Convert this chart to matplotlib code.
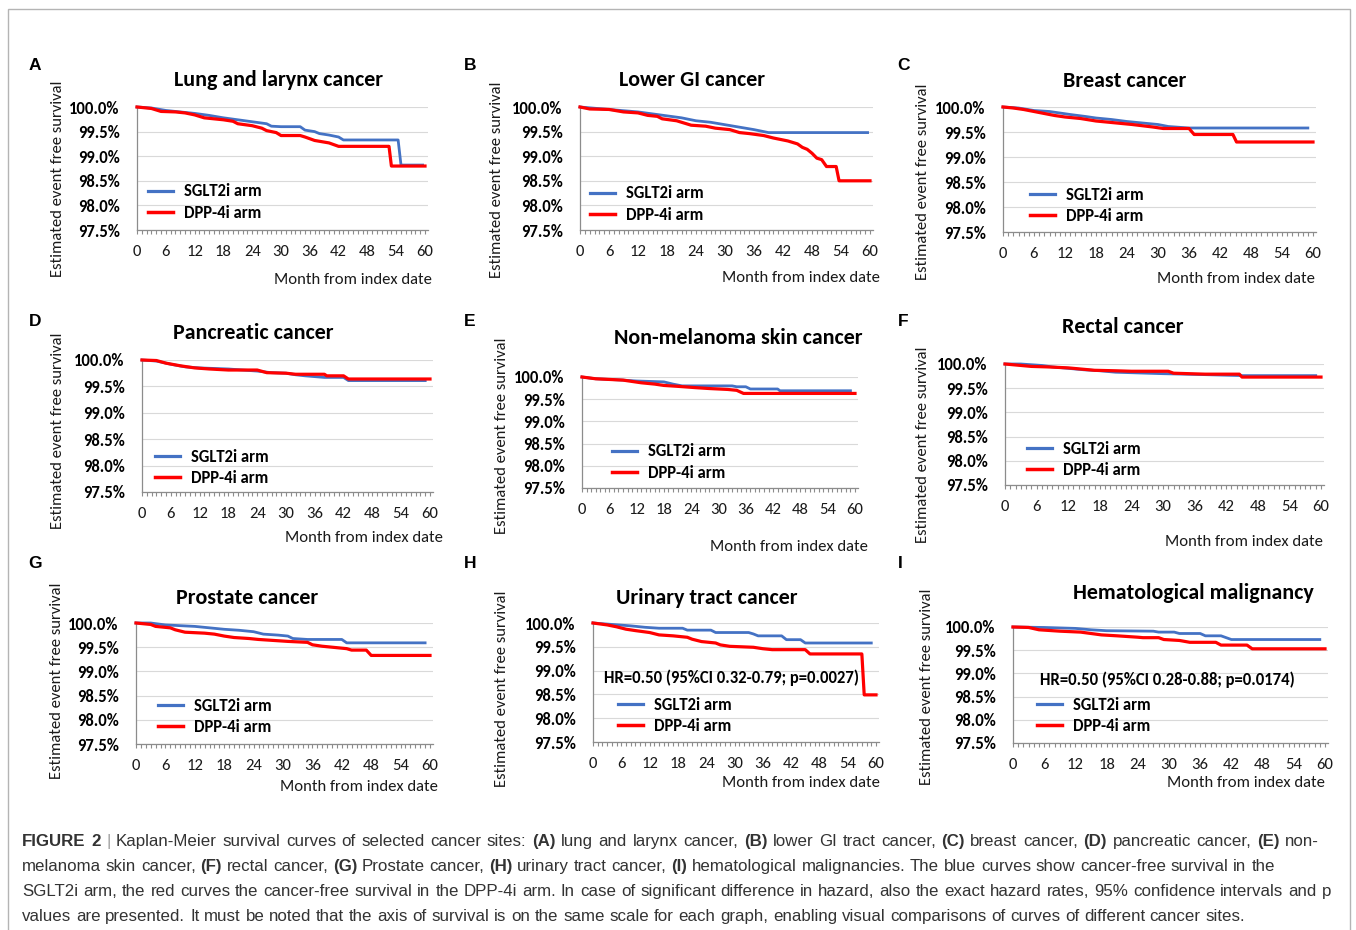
import matplotlib
matplotlib.use("Agg")
import matplotlib.pyplot as plt
from matplotlib import font_manager as fm
from matplotlib.lines import Line2D
from matplotlib.patches import Rectangle
from matplotlib.ticker import FuncFormatter, MultipleLocator

# ---------------------------------------------------------------- data
titles = ["Lung and larynx cancer", "Lower GI cancer", "Breast cancer",
          "Pancreatic cancer", "Non-melanoma skin cancer", "Rectal cancer",
          "Prostate cancer", "Urinary tract cancer", "Hematological malignancy"]
panel_letters = ["A", "B", "C", "D", "E", "F", "G", "H", "I"]
arm_labels = ["SGLT2i arm", "DPP-4i arm"]
y_ticks = [97.5, 98.0, 98.5, 99.0, 99.5, 100.0]
x_ticks = [0, 6, 12, 18, 24, 30, 36, 42, 48, 54, 60]
hr_text = {7: "HR=0.50 (95%CI 0.32-0.79; p=0.0027)",
           8: "HR=0.50 (95%CI 0.28-0.88; p=0.0174)"}

# Lung and larynx
lung_sglt2_m = [0, 3, 6, 9, 12, 15, 18, 21, 24, 27, 28, 30, 34, 35, 37, 38, 40, 42, 43, 54.4, 55, 59.5]
lung_sglt2_s = [100, 99.98, 99.93, 99.90, 99.87, 99.83, 99.78, 99.74, 99.70, 99.66, 99.61, 99.60, 99.60,
                99.53, 99.50, 99.46, 99.43, 99.39, 99.33, 99.33, 98.82, 98.82]
lung_dpp4_m = [0, 3, 5, 8, 10, 12, 14, 18, 20, 21, 24, 26, 27, 29, 30, 34, 35, 37, 40, 42, 52.5, 53, 60]
lung_dpp4_s = [100, 99.97, 99.91, 99.90, 99.88, 99.84, 99.78, 99.74, 99.71, 99.66, 99.62, 99.57, 99.52,
               99.48, 99.42, 99.42, 99.39, 99.32, 99.27, 99.20, 99.20, 98.80, 98.80]
# Lower GI
gi_sglt2_m = [0, 6, 12, 15, 18, 21, 24, 27, 30, 33, 36, 38, 39, 59.5]
gi_sglt2_s = [100, 99.95, 99.90, 99.86, 99.82, 99.78, 99.72, 99.69, 99.64, 99.59, 99.54, 99.50, 99.48, 99.48]
gi_dpp4_m = [0, 2, 6, 9, 12, 14, 16, 17, 20, 22, 23, 26, 28, 31, 33, 35, 38, 40, 43, 45, 46, 47, 48, 49,
             50, 51, 53, 53.6, 60]
gi_dpp4_s = [100, 99.96, 99.95, 99.90, 99.88, 99.83, 99.81, 99.76, 99.72, 99.66, 99.63, 99.61, 99.57,
             99.54, 99.48, 99.46, 99.42, 99.37, 99.31, 99.25, 99.18, 99.14, 99.06, 98.96, 98.93, 98.79,
             98.79, 98.50, 98.50]
# Breast
breast_sglt2_m = [0, 3, 6, 9, 11, 13, 16, 18, 21, 24, 27, 30, 32, 36, 59]
breast_sglt2_s = [100, 99.98, 99.93, 99.91, 99.88, 99.85, 99.81, 99.78, 99.75, 99.71, 99.68, 99.65, 99.61,
                  99.58, 99.58]
breast_dpp4_m = [0, 2, 4, 6, 8, 10, 12, 15, 18, 21, 25, 29, 31, 36, 37, 44.5, 45.2, 60]
breast_dpp4_s = [100, 99.98, 99.95, 99.91, 99.87, 99.83, 99.80, 99.77, 99.72, 99.69, 99.65, 99.60, 99.57,
                 99.57, 99.45, 99.45, 99.30, 99.30]
# Pancreatic
panc_sglt2_m = [0, 3, 6, 9, 12, 18, 24, 27, 30, 32, 34, 38, 42, 43, 59]
panc_sglt2_s = [100, 99.98, 99.92, 99.87, 99.85, 99.83, 99.79, 99.76, 99.75, 99.72, 99.70, 99.67, 99.67,
                99.61, 99.61]
panc_dpp4_m = [0, 3, 5, 8, 11, 14, 18, 24, 26, 30, 32, 38, 38.5, 42, 43, 60]
panc_dpp4_s = [100, 99.99, 99.94, 99.89, 99.85, 99.83, 99.81, 99.81, 99.76, 99.75, 99.73, 99.73, 99.70,
               99.70, 99.64, 99.64]
# Non-melanoma skin
skin_sglt2_m = [0, 3, 9, 12, 18, 20, 22, 33, 34, 36, 37, 43, 43.5, 59]
skin_sglt2_s = [100, 99.96, 99.93, 99.91, 99.89, 99.84, 99.80, 99.80, 99.78, 99.78, 99.73, 99.73, 99.69, 99.69]
skin_dpp4_m = [0, 3, 9, 11, 13, 16, 18, 21, 25, 28, 32, 34, 35.5, 60]
skin_dpp4_s = [100, 99.96, 99.93, 99.90, 99.87, 99.84, 99.81, 99.79, 99.76, 99.74, 99.72, 99.70, 99.63, 99.63]
# Rectal
rect_sglt2_m = [0, 3, 7, 9, 15, 18, 21, 30, 38, 45, 59]
rect_sglt2_s = [100, 100, 99.97, 99.94, 99.88, 99.86, 99.83, 99.80, 99.78, 99.76, 99.76]
rect_dpp4_m = [0, 3, 5, 8, 12, 14, 17, 21, 24, 31, 32, 38, 44.5, 45, 60]
rect_dpp4_s = [100, 99.97, 99.95, 99.94, 99.92, 99.90, 99.87, 99.86, 99.85, 99.85, 99.81, 99.79, 99.79,
               99.73, 99.73]
# Prostate
prost_sglt2_m = [0, 3, 6, 12, 15, 18, 21, 24, 26, 29, 31, 32, 35, 42, 43, 59]
prost_sglt2_s = [100, 100, 99.96, 99.93, 99.90, 99.87, 99.85, 99.82, 99.77, 99.75, 99.73, 99.68, 99.66,
                 99.66, 99.59, 99.59]
prost_dpp4_m = [0, 3, 4, 7, 8, 10, 14, 16, 18, 20, 23, 25, 28, 31, 35, 36, 38, 43, 44, 47, 48, 60]
prost_dpp4_s = [100, 99.97, 99.93, 99.90, 99.86, 99.81, 99.79, 99.77, 99.73, 99.70, 99.68, 99.66, 99.64,
                99.62, 99.60, 99.55, 99.52, 99.47, 99.44, 99.44, 99.33, 99.33]
# Urinary tract
uri_sglt2_m = [0, 4, 8, 11, 14, 19, 20, 25, 26, 33, 34, 35, 40, 41, 44, 45, 59]
uri_sglt2_s = [100, 99.97, 99.94, 99.91, 99.89, 99.89, 99.85, 99.85, 99.80, 99.80, 99.77, 99.73, 99.73,
               99.65, 99.65, 99.58, 99.58]
uri_dpp4_m = [0, 3, 5, 7, 9, 12, 14, 17, 20, 21, 23, 26, 27, 29, 34, 36, 38, 45, 46, 57, 57.5, 60]
uri_dpp4_s = [100, 99.96, 99.92, 99.87, 99.84, 99.80, 99.75, 99.73, 99.70, 99.66, 99.61, 99.58, 99.54,
              99.51, 99.49, 99.46, 99.44, 99.44, 99.35, 99.35, 98.49, 98.49]
# Hematological
hem_sglt2_m = [0, 6, 12, 15, 18, 27, 28, 31, 32, 36, 37, 40, 41, 42, 59]
hem_sglt2_s = [100, 99.99, 99.97, 99.94, 99.92, 99.91, 99.89, 99.89, 99.86, 99.86, 99.81, 99.81, 99.77,
               99.73, 99.73]
hem_dpp4_m = [0, 3, 5, 9, 13, 15, 17, 20, 24, 25, 28, 29, 32, 34, 39, 40, 45, 46, 60]
hem_dpp4_s = [100, 99.99, 99.94, 99.91, 99.89, 99.86, 99.83, 99.81, 99.78, 99.77, 99.77, 99.73, 99.71,
              99.67, 99.67, 99.61, 99.61, 99.53, 99.53]

curves = [
    ((lung_sglt2_m, lung_sglt2_s), (lung_dpp4_m, lung_dpp4_s)),
    ((gi_sglt2_m, gi_sglt2_s), (gi_dpp4_m, gi_dpp4_s)),
    ((breast_sglt2_m, breast_sglt2_s), (breast_dpp4_m, breast_dpp4_s)),
    ((panc_sglt2_m, panc_sglt2_s), (panc_dpp4_m, panc_dpp4_s)),
    ((skin_sglt2_m, skin_sglt2_s), (skin_dpp4_m, skin_dpp4_s)),
    ((rect_sglt2_m, rect_sglt2_s), (rect_dpp4_m, rect_dpp4_s)),
    ((prost_sglt2_m, prost_sglt2_s), (prost_dpp4_m, prost_dpp4_s)),
    ((uri_sglt2_m, uri_sglt2_s), (uri_dpp4_m, uri_dpp4_s)),
    ((hem_sglt2_m, hem_sglt2_s), (hem_dpp4_m, hem_dpp4_s)),
]

# caption: **...** marks bold words, a lone "|" is the grey separator
caption_lines = [
    "**FIGURE 2** | Kaplan-Meier survival curves of selected cancer sites: **(A)** lung and larynx cancer, "
    "**(B)** lower GI tract cancer, **(C)** breast cancer, **(D)** pancreatic cancer, **(E)** non-",
    "melanoma skin cancer, **(F)** rectal cancer, **(G)** Prostate cancer, **(H)** urinary tract cancer, "
    "**(I)** hematological malignancies. The blue curves show cancer-free survival in the",
    "SGLT2i arm, the red curves the cancer-free survival in the DPP-4i arm. In case of significant "
    "difference in hazard, also the exact hazard rates, 95% confidence intervals and p",
    "values are presented. It must be noted that the axis of survival is on the same scale for each "
    "graph, enabling visual comparisons of curves of different cancer sites.",
]

# ---------------------------------------------------------------- style
W, H = 1356, 930
BLUE = "#4472C4"
RED = "#FF0000"
AXIS_GRAY = "#8c8c8c"
GRID_GRAY = "#d9d9d9"


def pick(*names):
    avail = {f.name for f in fm.fontManager.ttflist}
    for n in names:
        if n in avail:
            return n
    return "DejaVu Sans"


CHART_FONT = pick("Carlito", "Lato", "Open Sans")
LETTER_FONT = pick("Liberation Sans", "DejaVu Sans")
CAP_FONT = pick("Liberation Sans Narrow", "Liberation Sans", "DejaVu Sans")

# pixel layout of each panel: axis (x at 0 months, x at 60 months, y at 100 %, y at 97.5 %)
layout = [
    dict(ax=(137, 425, 107, 230), title=(278, 80), ylab=(58, 179), xlab=(432, 280), leg=(148, 191), letter=(35, 65)),
    dict(ax=(580, 870, 107, 230), title=(692, 80), ylab=(497, 180), xlab=(880, 278), leg=(590, 193), letter=(470, 65)),
    dict(ax=(1003, 1313, 107, 232), title=(1125, 81), ylab=(923, 182), xlab=(1315, 279), leg=(1030, 194), letter=(904, 66)),
    dict(ax=(142, 430, 360, 492), title=(253, 333), ylab=(58, 431), xlab=(443, 538), leg=(155, 456), letter=(35, 322)),
    dict(ax=(582, 855, 377, 488), title=(738, 338), ylab=(502, 436), xlab=(868, 547), leg=(612, 451), letter=(470, 322)),
    dict(ax=(1005, 1321, 364, 485), title=(1123, 327), ylab=(923, 445), xlab=(1323, 542), leg=(1027, 448), letter=(903, 322)),
    dict(ax=(136, 430, 623, 744), title=(247, 598), ylab=(57, 681), xlab=(438, 787), leg=(158, 705), letter=(35, 564)),
    dict(ax=(593, 876, 623, 742), title=(707, 598), ylab=(502, 689), xlab=(880, 783), leg=(618, 704), letter=(470, 564), hr=(732, 678)),
    dict(ax=(1013, 1325, 627, 743), title=(1193, 593), ylab=(927, 687), xlab=(1325, 783), leg=(1037, 704), letter=(900, 564), hr=(1167, 680)),
]

XMAX = 60.6
TICK_FS = 12
TITLE_FS = 15.8

fig = plt.figure(figsize=(W / 100, H / 100), dpi=100)
fig.patch.set_facecolor("white")


def fx(x):
    return x / W


def fy(y):
    return 1 - y / H


# outer frame
fig.patches.append(Rectangle((fx(8), fy(H + 20)), fx(1350) - fx(8), fy(9) - fy(H + 20),
                             transform=fig.transFigure, fill=False, edgecolor="#b4b4b4", lw=1.0))

pct = FuncFormatter(lambda v, _: f"{v:.1f}%")

for i, lay in enumerate(layout):
    x0, x60, ytop, ybot = lay["ax"]
    xr = x0 + (x60 - x0) * XMAX / 60
    ax = fig.add_axes([fx(x0), fy(ybot), fx(xr) - fx(x0), fy(ytop) - fy(ybot)])
    ax.set_xlim(0, XMAX)
    ax.set_ylim(97.5, 100.0)
    ax.set_facecolor("none")

    (bm, bs), (rm, rs) = curves[i]
    ax.plot(bm, bs, color=BLUE, lw=2.0, clip_on=False, zorder=3)
    ax.plot(rm, rs, color=RED, lw=2.3, clip_on=False, zorder=4)

    ax.set_yticks(y_ticks)
    ax.yaxis.set_major_formatter(pct)
    ax.tick_params(axis="y", length=0, pad=12.5, labelsize=TICK_FS)
    for lbl in ax.get_yticklabels():
        lbl.set_fontweight("bold")
        lbl.set_family(CHART_FONT)
    ax.grid(axis="y", color=GRID_GRAY, lw=0.8, zorder=0)
    ax.set_axisbelow(True)

    ax.set_xticks(x_ticks)
    ax.xaxis.set_minor_locator(MultipleLocator(1))
    ax.tick_params(axis="x", which="both", direction="out", length=3, width=0.8,
                   color=AXIS_GRAY, pad=7.5, labelsize=TICK_FS, labelcolor="#1a1a1a")
    for lbl in ax.get_xticklabels():
        lbl.set_family(CHART_FONT)

    for s in ("top", "right"):
        ax.spines[s].set_visible(False)
    for s in ("left", "bottom"):
        ax.spines[s].set_color(AXIS_GRAY)
        ax.spines[s].set_linewidth(0.9)

    # legend
    lx, ly = lay["leg"]
    handles = [Line2D([], [], color=BLUE, lw=2.3), Line2D([], [], color=RED, lw=2.5)]
    ax.legend(handles, arm_labels, loc="upper left", bbox_to_anchor=(fx(lx), fy(ly - 7.5)),
              bbox_transform=fig.transFigure, frameon=False, borderpad=0, borderaxespad=0,
              handlelength=1.5, handletextpad=0.66, labelspacing=0.31,
              prop=dict(family=CHART_FONT, weight="bold", size=TICK_FS))

    # texts
    tx, ty = lay["title"]
    fig.text(fx(tx), fy(ty), titles[i], ha="center", va="center", fontsize=TITLE_FS,
             fontweight="bold", family=CHART_FONT, color="black")
    yx, yy = lay["ylab"]
    fig.text(fx(yx), fy(yy), "Estimated event free survival", rotation=90, ha="center", va="center",
             fontsize=TICK_FS, family=CHART_FONT, color="#1a1a1a")
    xx, xy = lay["xlab"]
    fig.text(fx(xx), fy(xy), "Month from index date", ha="right", va="center",
             fontsize=TICK_FS, family=CHART_FONT, color="#1a1a1a")
    lx2, ly2 = lay["letter"]
    fig.text(fx(lx2), fy(ly2), panel_letters[i], ha="center", va="center", fontsize=12.5,
             fontweight="bold", family=LETTER_FONT, color="black")
    if "hr" in lay:
        hx, hy = lay["hr"]
        fig.text(fx(hx), fy(hy), hr_text[i], ha="center", va="center", fontsize=TICK_FS,
                 fontweight="bold", family=CHART_FONT, color="black")

# ---------------------------------------------------------------- caption
renderer = fig.canvas.get_renderer()


def words_of(line):
    out = []
    for k, part in enumerate(line.split("**")):
        for w in part.split():
            if w == "|":
                out.append((w, "sep"))
            else:
                out.append((w, "bold" if k % 2 else "normal"))
    return out


def text_width(s, size, weight):
    probe = fig.text(0, 0, "|" + s + "|", fontsize=size, fontweight=weight, family=CAP_FONT)
    base = fig.text(0, 0, "||", fontsize=size, fontweight=weight, family=CAP_FONT)
    w = probe.get_window_extent(renderer).width - base.get_window_extent(renderer).width
    probe.remove()
    base.remove()
    return w


def natural_width(line, size):
    ws = words_of(line)
    total = sum(text_width(w, size, "bold" if k == "bold" else "normal") for w, k in ws)
    return total + (len(ws) - 1) * text_width(" ", size, "normal")


CAP_X0 = 22
cap_right = [1319, 1273, 1331, 1247]
cap_justify = [True, False, True, False]
cap_y = [841, 866, 891, 916]
cap_size = min(10 * (r - CAP_X0) / natural_width(l, 10) for l, r in zip(caption_lines, cap_right))
space_w = text_width(" ", cap_size, "normal")

for line, ypx, right, just in zip(caption_lines, cap_y, cap_right, cap_justify):
    ws = words_of(line)
    widths = [text_width(w, cap_size, "bold" if k == "bold" else "normal") for w, k in ws]
    gap = (right - CAP_X0 - sum(widths)) / (len(ws) - 1) if just else space_w
    xpx = CAP_X0
    for (w, kind), wd in zip(ws, widths):
        fig.text(fx(xpx), fy(ypx), w, fontsize=cap_size,
                 fontweight="bold" if kind == "bold" else "normal", family=CAP_FONT,
                 color="#a0a0a0" if kind == "sep" else "#333333", ha="left", va="center")
        xpx += wd + gap

fig.savefig("out.png", dpi=100, facecolor="white")
